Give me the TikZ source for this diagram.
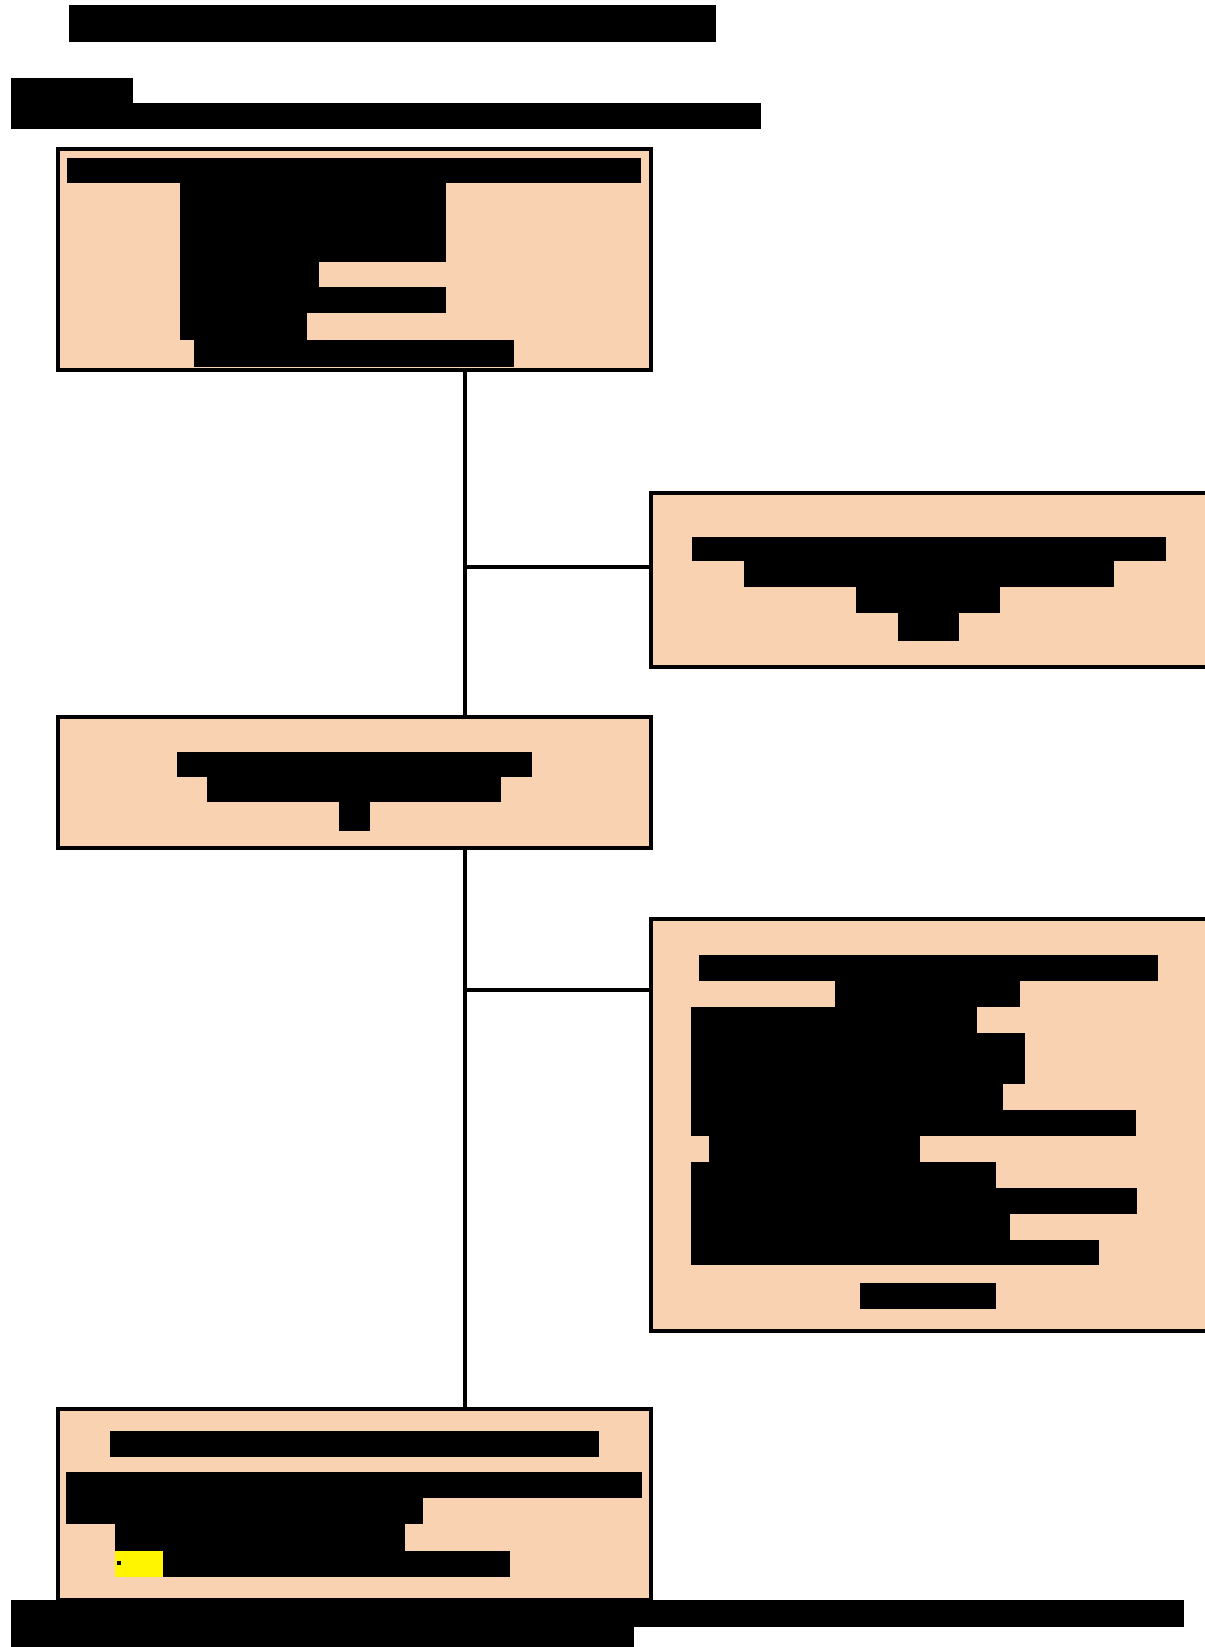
\documentclass[tikz,border=0pt]{standalone}
\usetikzlibrary{fit}
\definecolor{peach}{RGB}{248,210,177}
\definecolor{hilite}{RGB}{255,245,0}
\tikzset{
  panel/.style={draw=black, fill=peach, line width=3pt, inner sep=0pt},
  wire/.style={draw=black, line width=3pt},
  bar/.style={fill=black},
}
\begin{document}
\begin{tikzpicture}[x=0.75pt, y=-0.75pt]
\useasboundingbox (0,0) rectangle (1205,1647);
\clip (0,0) rectangle (1205,1647);
\fill[white] (0,0) rectangle (1205,1647);

% heading bars
\fill[bar] (69,5) rectangle (716,42);
\fill[bar] (11,78) rectangle (133,129);
\fill[bar] (133,103) rectangle (761,129);

% panels
\node[panel, fit={(58,149) (651,370)}] (p1) {};
\node[panel, fit={(651,493) (1225,667)}] (p2) {};
\node[panel, fit={(58,717) (651,848)}] (p3) {};
\node[panel, fit={(651,919) (1225,1331)}] (p4) {};
\node[panel, fit={(58,1409) (651,1600)}] (p5) {};

% trunk and branches
\coordinate (trunk) at (465,0);
\coordinate (j1) at (465,567);
\coordinate (j2) at (465,990);
\draw[wire] (p1.south -| trunk) -- (p3.north -| trunk);
\draw[wire] (p3.south -| trunk) -- (p5.north -| trunk);
\draw[wire] (j1) -- (j1 -| p2.west);
\draw[wire] (j2) -- (j2 -| p4.west);

% panel 1 contents
\fill[bar] (67,158) rectangle (641,183);
\fill[bar] (180,183) rectangle (446,262);
\fill[bar] (180,262) rectangle (319,287);
\fill[bar] (180,287) rectangle (446,313);
\fill[bar] (180,313) rectangle (307,340);
\fill[bar] (194,340) rectangle (514,367);

% panel 2 contents
\fill[bar] (692,537) rectangle (1166,561);
\fill[bar] (744,561) rectangle (1114,587);
\fill[bar] (856,587) rectangle (1000,613);
\fill[bar] (898,613) rectangle (959,641);

% panel 3 contents
\fill[bar] (177,752) rectangle (532,777);
\fill[bar] (207,777) rectangle (501,802);
\fill[bar] (339,802) rectangle (370,831);

% panel 4 contents
\fill[bar] (699,955) rectangle (1158,981);
\fill[bar] (835,981) rectangle (1020,1007);
\fill[bar] (691,1007) rectangle (977,1033);
\fill[bar] (691,1033) rectangle (1025,1084);
\fill[bar] (691,1084) rectangle (1003,1110);
\fill[bar] (691,1110) rectangle (1136,1136);
\fill[bar] (709,1136) rectangle (920,1162);
\fill[bar] (691,1162) rectangle (996,1188);
\fill[bar] (691,1188) rectangle (1137,1214);
\fill[bar] (691,1214) rectangle (1010,1240);
\fill[bar] (691,1240) rectangle (1099,1265);
\fill[bar] (860,1283) rectangle (996,1309);

% panel 5 contents
\fill[bar] (110,1431) rectangle (599,1457);
\fill[bar] (66,1472) rectangle (642,1498);
\fill[bar] (66,1498) rectangle (423,1524);
\fill[bar] (115,1524) rectangle (405,1551);
\fill[hilite] (115,1551) rectangle (163,1577);
\fill[bar] (117,1561) rectangle (121,1565);
\fill[bar] (163,1551) rectangle (510,1577);

% footer bars
\fill[bar] (11,1600) rectangle (1184,1627);
\fill[bar] (11,1627) rectangle (634,1647);
\end{tikzpicture}
\end{document}
